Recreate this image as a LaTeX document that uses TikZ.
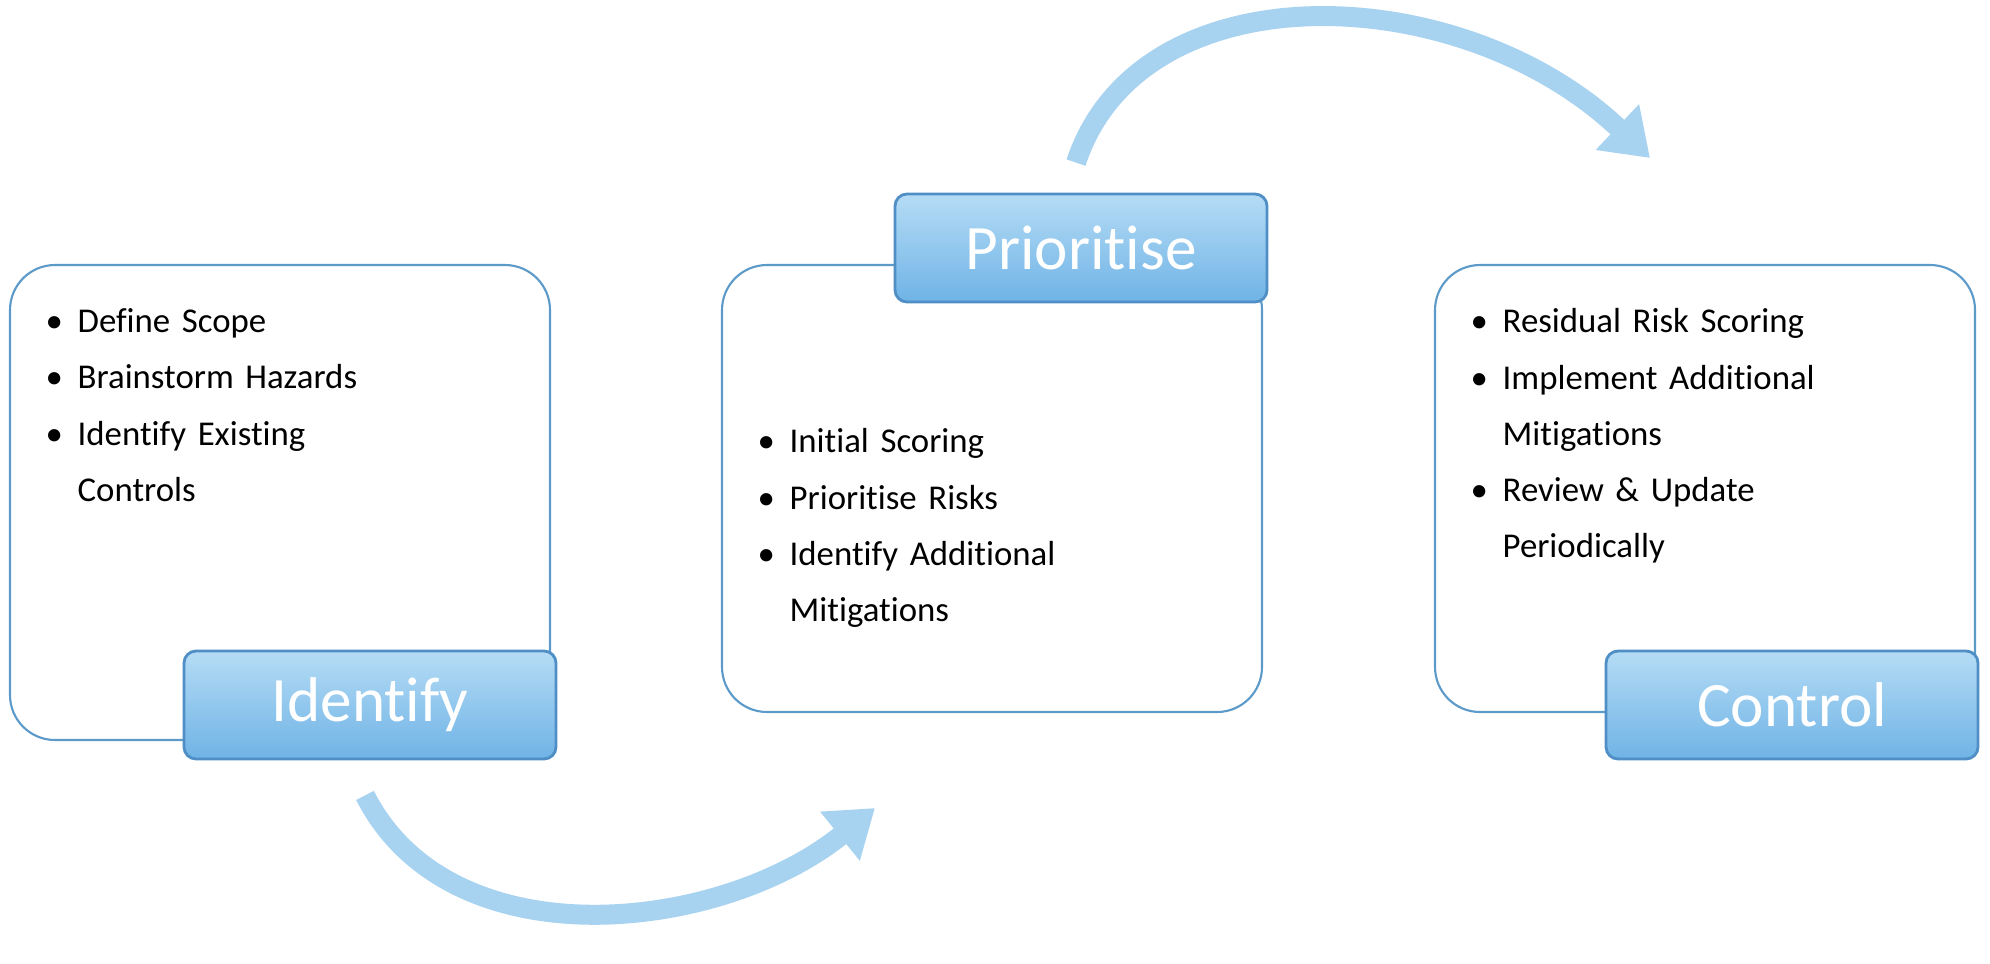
\documentclass[tikz,border=0pt]{standalone}
\usepackage{fontspec}
\setmainfont[Ligatures={NoCommon}]{Carlito}
\usetikzlibrary{arrows.meta,positioning}
\definecolor{tagtop}{HTML}{B5DCF5}
\definecolor{tagbot}{HTML}{6FB3E6}
\definecolor{tagline}{HTML}{4F8FC6}
\definecolor{flowblue}{HTML}{A8D3F0}
\definecolor{panelline}{HTML}{5C9AC9}
\tikzset{
  panel/.style={draw=panelline,line width=0.6pt,rounded corners=0.45cm,fill=white},
  tag/.style={draw=tagline,line width=0.8pt,rounded corners=0.12cm,top color=tagtop,bottom color=tagbot,
    text=white,font=\fontsize{18}{20}\selectfont,minimum width=3.72cm,minimum height=1.08cm,inner sep=0pt},
  items/.style={anchor=north west,text width=4.6cm,font=\fontsize{9.9}{16}\selectfont,inner sep=0pt,align=left},
  flow/.style={draw=flowblue,line width=0.2cm,-{Triangle[length=0.45cm,width=0.6cm]}}
}
\newcommand{\bul}{\makebox[0.32cm][l]{\textbullet}}
\begin{document}
\begin{tikzpicture}
\useasboundingbox (0,0) rectangle (19.9,9.63);
% boxes
\draw[panel] (0.1,2.23) rectangle (5.5,6.98);
\draw[panel] (7.22,2.51) rectangle (12.62,6.98);
\draw[panel] (14.35,2.51) rectangle (19.75,6.98);
% labels
\node[tag] (identify) at (3.7,2.58) {Identify};
\node[tag] (prioritise) at (10.81,7.15) {Prioritise};
\node[tag] (control) at (17.92,2.58) {Control};
% texts
\node[items] (ident) at (0.45,6.55) {\bul Define Scope\\ \bul Brainstorm Hazards\\ \bul Identify Existing\\ \hspace*{0.32cm}Controls};
\node[items] (prio) at (7.57,5.35) {\bul Initial Scoring\\ \bul Prioritise Risks\\ \bul Identify Additional\\ \hspace*{0.32cm}Mitigations};
\node[items] (ctrl) at (14.7,6.55) {\bul Residual Risk Scoring\\ \bul Implement Additional\\ \hspace*{0.32cm}Mitigations\\ \bul Review \& Update\\ \hspace*{0.32cm}Periodically};
% arrows
\coordinate (p1) at (8.75,1.55);
\coordinate (p2) at (16.5,8.05);
\draw[flow] ([xshift=-0.05cm,yshift=-0.35cm]identify.south) .. controls (4.5,0.0) and (7.2,0.3) .. (p1);
\draw[flow] ([xshift=-0.05cm,yshift=0.3cm]prioritise.north) .. controls (11.4,9.95) and (14.6,9.85) .. (p2);
\end{tikzpicture}
\end{document}
